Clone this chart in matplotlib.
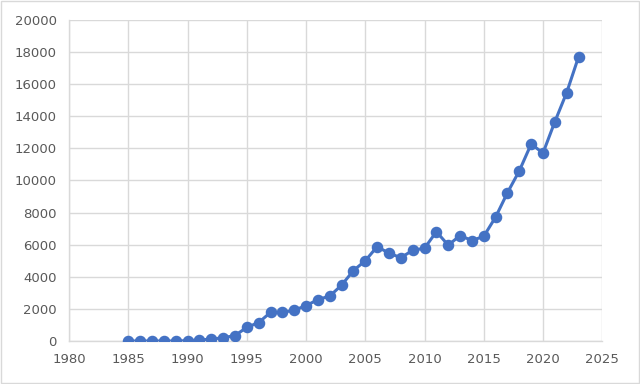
import matplotlib
matplotlib.use("Agg")
import matplotlib.pyplot as plt
from matplotlib.patches import Rectangle

years = list(range(1985, 2024))
values = [0, 0, 0, 0, 0, 20, 60, 120, 200, 340, 850, 1150, 1780, 1780, 1920, 2200,
          2580, 2800, 3480, 4390, 5000, 5880, 5470, 5190, 5650, 5780, 6810, 5970,
          6570, 6260, 6520, 7720, 9240, 10600, 12270, 11710, 13660, 15480, 17700]
xticks = list(range(1980, 2030, 5))
yticks = list(range(0, 22000, 2000))

fig = plt.figure(figsize=(6.4, 3.84), dpi=100)
ax = fig.add_axes([0.108, 0.112, 0.833, 0.836])
color = "#4472C4"
ax.plot(years, values, color=color, linewidth=2.2, marker="o", markersize=7.3,
        markerfacecolor=color, markeredgecolor=color, zorder=3)
ax.set_xlim(1980, 2025)
ax.set_ylim(0, 20000)
ax.set_xticks(xticks)
ax.set_yticks(yticks)
ax.grid(True, color="#D9D9D9", linewidth=1)
ax.set_axisbelow(True)
for s in ["top", "right"]:
    ax.spines[s].set_visible(False)
for s in ["left", "bottom"]:
    ax.spines[s].set_color("#D9D9D9")
    ax.spines[s].set_linewidth(1)
ax.tick_params(length=0, labelsize=9.5, labelcolor="#595959")
ax.tick_params(axis="y", pad=9)
ax.tick_params(axis="x", pad=9)
fig.patches.append(Rectangle((0.002, 0.003), 0.996, 0.994, transform=fig.transFigure,
                             fill=False, edgecolor="#D9D9D9", linewidth=1))
fig.savefig("out.png", dpi=100)
